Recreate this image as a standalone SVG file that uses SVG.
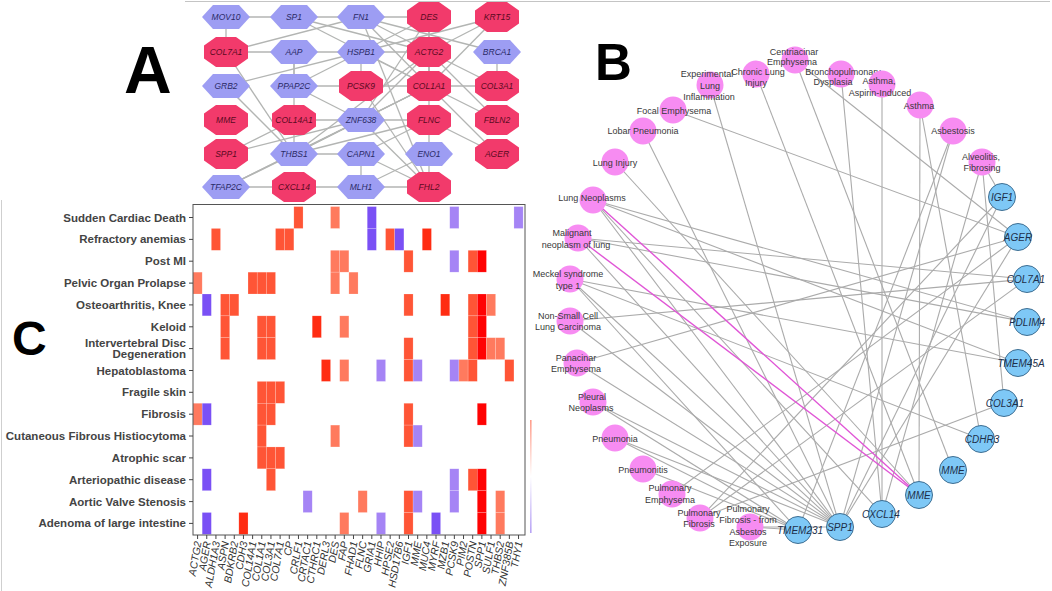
<svg xmlns="http://www.w3.org/2000/svg" width="1052" height="591" viewBox="0 0 1052 591">
<style>
text{font-family:"Liberation Sans",Arial,sans-serif}
.big{font-weight:bold;fill:#000}
.ae line{stroke:#b3b5b3;stroke-width:1.3}
.hx{fill:#9d9df3}
.oc{fill:#f23a6b}
.ah{font-size:8.5px;font-style:italic;fill:#2a2a66;text-anchor:middle}
.ao{font-size:8.5px;font-style:italic;fill:#5a0a22;text-anchor:middle}
.rl{font-size:11.5px;font-weight:bold;fill:#444;text-anchor:end}
.cl{font-size:10.5px;font-style:italic;fill:#333;text-anchor:end}
.tk line{stroke:#444;stroke-width:1}
.hm rect{stroke:#fff;stroke-opacity:0.35;stroke-width:0.5}
.cL{fill:#ff7a5e}.cR{fill:#ff5536}.cB{fill:#ff2c12}.cD{fill:#ff0303}.cU{fill:#7a50f5}.cP{fill:#a584f5}
.be line{stroke:#ababab;stroke-width:1.1}
.be line.pk{stroke:#e056d6;stroke-width:1.4}
.dn{fill:#f78cf2}
.gn{fill:#7ec8f6;stroke:#3e6e92;stroke-width:1}
.dl{font-size:9px;fill:#383838;text-anchor:middle}
.gl{font-size:10px;font-style:italic;fill:#1d2f4a;text-anchor:middle}
</style>
<defs>
<polygon id="hex" points="-24,0 -13,-12 13,-12 24,0 13,12 -13,12"/>
<polygon id="oct" points="-22,-6.5 -10,-15 10,-15 22,-6.5 22,6.5 10,15 -10,15 -22,6.5"/>
<linearGradient id="leg" x1="0" y1="0" x2="0" y2="1">
<stop offset="0" stop-color="#ff9c8a"/><stop offset="0.5" stop-color="#ffffff"/><stop offset="1" stop-color="#b7a2f5"/>
</linearGradient>
</defs>
<rect width="1052" height="591" fill="#fff"/>
<line x1="185" y1="1.5" x2="1050" y2="1.5" stroke="#c4c4c4" stroke-width="1"/>
<line x1="1.5" y1="200" x2="1.5" y2="591" stroke="#cfcfcf" stroke-width="1"/>

<!-- Panel letters -->
<text class="big" x="124" y="93" font-size="66">A</text>
<text class="big" x="595" y="80" font-size="51">B</text>
<text class="big" x="12" y="355" font-size="48">C</text>

<!-- Panel A connectors -->
<g id="a-edges" class="ae">
<line x1="226" y1="17" x2="294" y2="17"/>
<line x1="294" y1="17" x2="361" y2="17"/>
<line x1="361" y1="17" x2="429" y2="17"/>
<line x1="226" y1="17" x2="226" y2="52"/>
<line x1="226" y1="52" x2="361" y2="17"/>
<line x1="294" y1="17" x2="429" y2="52"/>
<line x1="294" y1="17" x2="429" y2="86"/>
<line x1="361" y1="17" x2="429" y2="52"/>
<line x1="361" y1="17" x2="429" y2="86"/>
<line x1="361" y1="17" x2="497" y2="52"/>
<line x1="361" y1="17" x2="429" y2="187"/>
<line x1="429" y1="17" x2="361" y2="52"/>
<line x1="429" y1="17" x2="429" y2="52"/>
<line x1="429" y1="17" x2="429" y2="86"/>
<line x1="497" y1="17" x2="361" y2="52"/>
<line x1="497" y1="17" x2="429" y2="52"/>
<line x1="497" y1="17" x2="429" y2="86"/>
<line x1="361" y1="52" x2="361" y2="86"/>
<line x1="361" y1="52" x2="429" y2="52"/>
<line x1="361" y1="52" x2="226" y2="86"/>
<line x1="361" y1="52" x2="294" y2="86"/>
<line x1="361" y1="52" x2="429" y2="86"/>
<line x1="226" y1="52" x2="361" y2="52"/>
<line x1="294" y1="52" x2="294" y2="86"/>
<line x1="294" y1="52" x2="294" y2="120"/>
<line x1="226" y1="52" x2="294" y2="154"/>
<line x1="294" y1="86" x2="361" y2="120"/>
<line x1="294" y1="86" x2="429" y2="86"/>
<line x1="429" y1="52" x2="429" y2="86"/>
<line x1="429" y1="52" x2="429" y2="120"/>
<line x1="429" y1="52" x2="497" y2="86"/>
<line x1="429" y1="86" x2="497" y2="86"/>
<line x1="497" y1="52" x2="497" y2="86"/>
<line x1="361" y1="120" x2="429" y2="52"/>
<line x1="361" y1="120" x2="429" y2="17"/>
<line x1="361" y1="120" x2="429" y2="86"/>
<line x1="361" y1="120" x2="294" y2="154"/>
<line x1="361" y1="120" x2="429" y2="187"/>
<line x1="361" y1="120" x2="429" y2="120"/>
<line x1="361" y1="120" x2="226" y2="187"/>
<line x1="361" y1="120" x2="226" y2="154"/>
<line x1="361" y1="120" x2="294" y2="120"/>
<line x1="294" y1="120" x2="294" y2="154"/>
<line x1="294" y1="154" x2="361" y2="154"/>
<line x1="294" y1="154" x2="429" y2="52"/>
<line x1="294" y1="154" x2="429" y2="86"/>
<line x1="294" y1="154" x2="429" y2="120"/>
<line x1="294" y1="154" x2="226" y2="187"/>
<line x1="226" y1="86" x2="294" y2="154"/>
<line x1="226" y1="187" x2="294" y2="187"/>
<line x1="226" y1="187" x2="429" y2="86"/>
<line x1="294" y1="187" x2="361" y2="187"/>
<line x1="361" y1="187" x2="429" y2="187"/>
<line x1="361" y1="154" x2="361" y2="187"/>
<line x1="361" y1="154" x2="429" y2="187"/>
<line x1="361" y1="154" x2="429" y2="120"/>
<line x1="429" y1="154" x2="429" y2="120"/>
<line x1="429" y1="154" x2="429" y2="187"/>
<line x1="429" y1="120" x2="497" y2="154"/>
<line x1="497" y1="120" x2="429" y2="52"/>
<line x1="497" y1="120" x2="429" y2="86"/>
<line x1="497" y1="154" x2="429" y2="86"/>
<line x1="361" y1="187" x2="429" y2="154"/>
<line x1="361" y1="86" x2="429" y2="187"/>
<line x1="226" y1="154" x2="294" y2="120"/>
</g>

<!-- Panel A nodes -->
<g id="a-MOV10"><use href="#hex" x="226" y="17" class="hx"/><text class="ah" x="226" y="20">MOV10</text></g>
<g id="a-SP1"><use href="#hex" x="294" y="17" class="hx"/><text class="ah" x="294" y="20">SP1</text></g>
<g id="a-FN1"><use href="#hex" x="361" y="17" class="hx"/><text class="ah" x="361" y="20">FN1</text></g>
<g id="a-DES"><use href="#oct" x="429" y="17" class="oc"/><text class="ao" x="429" y="20">DES</text></g>
<g id="a-KRT15"><use href="#oct" x="497" y="17" class="oc"/><text class="ao" x="497" y="20">KRT15</text></g>
<g id="a-COL7A1"><use href="#oct" x="226" y="52" class="oc"/><text class="ao" x="226" y="55">COL7A1</text></g>
<g id="a-AAP"><use href="#hex" x="294" y="52" class="hx"/><text class="ah" x="294" y="55">AAP</text></g>
<g id="a-HSPB1"><use href="#hex" x="361" y="52" class="hx"/><text class="ah" x="361" y="55">HSPB1</text></g>
<g id="a-ACTG2"><use href="#oct" x="429" y="52" class="oc"/><text class="ao" x="429" y="55">ACTG2</text></g>
<g id="a-BRCA1"><use href="#hex" x="497" y="52" class="hx"/><text class="ah" x="497" y="55">BRCA1</text></g>
<g id="a-GRB2"><use href="#hex" x="226" y="86" class="hx"/><text class="ah" x="226" y="89">GRB2</text></g>
<g id="a-PPAP2C"><use href="#hex" x="294" y="86" class="hx"/><text class="ah" x="294" y="89">PPAP2C</text></g>
<g id="a-PCSK9"><use href="#oct" x="361" y="86" class="oc"/><text class="ao" x="361" y="89">PCSK9</text></g>
<g id="a-COL1A1"><use href="#oct" x="429" y="86" class="oc"/><text class="ao" x="429" y="89">COL1A1</text></g>
<g id="a-COL3A1"><use href="#oct" x="497" y="86" class="oc"/><text class="ao" x="497" y="89">COL3A1</text></g>
<g id="a-MME"><use href="#oct" x="226" y="120" class="oc"/><text class="ao" x="226" y="123">MME</text></g>
<g id="a-COL14A1"><use href="#oct" x="294" y="120" class="oc"/><text class="ao" x="294" y="123">COL14A1</text></g>
<g id="a-ZNF638"><use href="#hex" x="361" y="120" class="hx"/><text class="ah" x="361" y="123">ZNF638</text></g>
<g id="a-FLNC"><use href="#oct" x="429" y="120" class="oc"/><text class="ao" x="429" y="123">FLNC</text></g>
<g id="a-FBLN2"><use href="#oct" x="497" y="120" class="oc"/><text class="ao" x="497" y="123">FBLN2</text></g>
<g id="a-SPP1"><use href="#oct" x="226" y="154" class="oc"/><text class="ao" x="226" y="157">SPP1</text></g>
<g id="a-THBS1"><use href="#hex" x="294" y="154" class="hx"/><text class="ah" x="294" y="157">THBS1</text></g>
<g id="a-CAPN1"><use href="#hex" x="361" y="154" class="hx"/><text class="ah" x="361" y="157">CAPN1</text></g>
<g id="a-ENO1"><use href="#hex" x="429" y="154" class="hx"/><text class="ah" x="429" y="157">ENO1</text></g>
<g id="a-AGER"><use href="#oct" x="497" y="154" class="oc"/><text class="ao" x="497" y="157">AGER</text></g>
<g id="a-TFAP2C"><use href="#hex" x="226" y="187" class="hx"/><text class="ah" x="226" y="190">TFAP2C</text></g>
<g id="a-CXCL14"><use href="#oct" x="294" y="187" class="oc"/><text class="ao" x="294" y="190">CXCL14</text></g>
<g id="a-MLH1"><use href="#hex" x="361" y="187" class="hx"/><text class="ah" x="361" y="190">MLH1</text></g>
<g id="a-FHL2"><use href="#oct" x="429" y="187" class="oc"/><text class="ao" x="429" y="190">FHL2</text></g>

<!-- Panel C heatmap -->
<g id="c-heatmap">
<g class="hm">
<rect class="cR" x="293.87" y="206.6" width="9.17" height="21.85"/>
<rect class="cL" x="330.55" y="206.6" width="9.17" height="21.85"/>
<rect class="cU" x="367.23" y="206.6" width="9.17" height="21.85"/>
<rect class="cP" x="449.76" y="206.6" width="9.17" height="21.85"/>
<rect class="cP" x="513.95" y="206.6" width="9.17" height="21.85"/>

<rect class="cR" x="211.34" y="228.45" width="9.17" height="21.85"/>
<rect class="cR" x="275.53" y="228.45" width="9.17" height="21.85"/>
<rect class="cR" x="284.70" y="228.45" width="9.17" height="21.85"/>
<rect class="cU" x="367.23" y="228.45" width="9.17" height="21.85"/>
<rect class="cR" x="385.57" y="228.45" width="9.17" height="21.85"/>
<rect class="cU" x="394.74" y="228.45" width="9.17" height="21.85"/>
<rect class="cB" x="422.25" y="228.45" width="9.17" height="21.85"/>

<rect class="cL" x="330.55" y="250.3" width="9.17" height="21.85"/>
<rect class="cL" x="339.72" y="250.3" width="9.17" height="21.85"/>
<rect class="cR" x="403.91" y="250.3" width="9.17" height="21.85"/>
<rect class="cP" x="449.76" y="250.3" width="9.17" height="21.85"/>
<rect class="cR" x="468.10" y="250.3" width="9.17" height="21.85"/>
<rect class="cD" x="477.27" y="250.3" width="9.17" height="21.85"/>

<rect class="cL" x="193.00" y="272.15" width="9.17" height="21.85"/>
<rect class="cR" x="248.02" y="272.15" width="9.17" height="21.85"/>
<rect class="cR" x="257.19" y="272.15" width="9.17" height="21.85"/>
<rect class="cR" x="266.36" y="272.15" width="9.17" height="21.85"/>
<rect class="cL" x="330.55" y="272.15" width="9.17" height="21.85"/>
<rect class="cL" x="348.89" y="272.15" width="9.17" height="21.85"/>

<rect class="cU" x="202.17" y="294.0" width="9.17" height="21.85"/>
<rect class="cR" x="220.51" y="294.0" width="9.17" height="21.85"/>
<rect class="cR" x="229.68" y="294.0" width="9.17" height="21.85"/>
<rect class="cR" x="403.91" y="294.0" width="9.17" height="21.85"/>
<rect class="cB" x="440.59" y="294.0" width="9.17" height="21.85"/>
<rect class="cR" x="468.10" y="294.0" width="9.17" height="21.85"/>
<rect class="cD" x="477.27" y="294.0" width="9.17" height="21.85"/>
<rect class="cL" x="486.44" y="294.0" width="9.17" height="21.85"/>

<rect class="cR" x="220.51" y="315.85" width="9.17" height="21.85"/>
<rect class="cR" x="257.19" y="315.85" width="9.17" height="21.85"/>
<rect class="cR" x="266.36" y="315.85" width="9.17" height="21.85"/>
<rect class="cB" x="312.21" y="315.85" width="9.17" height="21.85"/>
<rect class="cL" x="339.72" y="315.85" width="9.17" height="21.85"/>
<rect class="cR" x="468.10" y="315.85" width="9.17" height="21.85"/>
<rect class="cD" x="477.27" y="315.85" width="9.17" height="21.85"/>

<rect class="cR" x="220.51" y="337.7" width="9.17" height="21.85"/>
<rect class="cR" x="257.19" y="337.7" width="9.17" height="21.85"/>
<rect class="cR" x="266.36" y="337.7" width="9.17" height="21.85"/>
<rect class="cR" x="403.91" y="337.7" width="9.17" height="21.85"/>
<rect class="cR" x="468.10" y="337.7" width="9.17" height="21.85"/>
<rect class="cD" x="477.27" y="337.7" width="9.17" height="21.85"/>
<rect class="cL" x="486.44" y="337.7" width="9.17" height="21.85"/>
<rect class="cL" x="495.61" y="337.7" width="9.17" height="21.85"/>

<rect class="cB" x="321.38" y="359.55" width="9.17" height="21.85"/>
<rect class="cL" x="339.72" y="359.55" width="9.17" height="21.85"/>
<rect class="cP" x="376.40" y="359.55" width="9.17" height="21.85"/>
<rect class="cR" x="403.91" y="359.55" width="9.17" height="21.85"/>
<rect class="cP" x="413.08" y="359.55" width="9.17" height="21.85"/>
<rect class="cP" x="449.76" y="359.55" width="9.17" height="21.85"/>
<rect class="cL" x="458.93" y="359.55" width="9.17" height="21.85"/>
<rect class="cR" x="468.10" y="359.55" width="9.17" height="21.85"/>
<rect class="cR" x="504.78" y="359.55" width="9.17" height="21.85"/>

<rect class="cR" x="257.19" y="381.4" width="9.17" height="21.85"/>
<rect class="cR" x="266.36" y="381.4" width="9.17" height="21.85"/>
<rect class="cR" x="275.53" y="381.4" width="9.17" height="21.85"/>

<rect class="cL" x="193.00" y="403.25" width="9.17" height="21.85"/>
<rect class="cU" x="202.17" y="403.25" width="9.17" height="21.85"/>
<rect class="cR" x="257.19" y="403.25" width="9.17" height="21.85"/>
<rect class="cR" x="266.36" y="403.25" width="9.17" height="21.85"/>
<rect class="cR" x="403.91" y="403.25" width="9.17" height="21.85"/>
<rect class="cD" x="477.27" y="403.25" width="9.17" height="21.85"/>

<rect class="cR" x="257.19" y="425.1" width="9.17" height="21.85"/>
<rect class="cL" x="330.55" y="425.1" width="9.17" height="21.85"/>
<rect class="cR" x="403.91" y="425.1" width="9.17" height="21.85"/>
<rect class="cP" x="413.08" y="425.1" width="9.17" height="21.85"/>

<rect class="cR" x="257.19" y="446.95" width="9.17" height="21.85"/>
<rect class="cR" x="266.36" y="446.95" width="9.17" height="21.85"/>
<rect class="cR" x="275.53" y="446.95" width="9.17" height="21.85"/>

<rect class="cU" x="202.17" y="468.8" width="9.17" height="21.85"/>
<rect class="cR" x="266.36" y="468.8" width="9.17" height="21.85"/>
<rect class="cP" x="449.76" y="468.8" width="9.17" height="21.85"/>
<rect class="cR" x="468.10" y="468.8" width="9.17" height="21.85"/>
<rect class="cD" x="477.27" y="468.8" width="9.17" height="21.85"/>

<rect class="cP" x="303.04" y="490.65" width="9.17" height="21.85"/>
<rect class="cL" x="358.06" y="490.65" width="9.17" height="21.85"/>
<rect class="cR" x="403.91" y="490.65" width="9.17" height="21.85"/>
<rect class="cP" x="413.08" y="490.65" width="9.17" height="21.85"/>
<rect class="cP" x="449.76" y="490.65" width="9.17" height="21.85"/>
<rect class="cD" x="477.27" y="490.65" width="9.17" height="21.85"/>
<rect class="cL" x="495.61" y="490.65" width="9.17" height="21.85"/>

<rect class="cU" x="202.17" y="512.5" width="9.17" height="21.85"/>
<rect class="cB" x="238.85" y="512.5" width="9.17" height="21.85"/>
<rect class="cL" x="339.72" y="512.5" width="9.17" height="21.85"/>
<rect class="cP" x="376.40" y="512.5" width="9.17" height="21.85"/>
<rect class="cR" x="403.91" y="512.5" width="9.17" height="21.85"/>
<rect class="cU" x="431.42" y="512.5" width="9.17" height="21.85"/>
<rect class="cD" x="477.27" y="512.5" width="9.17" height="21.85"/>
<rect class="cL" x="495.61" y="512.5" width="9.17" height="21.85"/>
</g>
<rect x="193" y="204.5" width="332" height="330.5" fill="none" stroke="#555" stroke-width="1"/>
<rect x="530" y="420" width="1.6" height="113" fill="url(#leg)"/>
<g class="tk">
<line x1="189" y1="217.5" x2="193" y2="217.5"/><line x1="189" y1="239.4" x2="193" y2="239.4"/>
<line x1="189" y1="261.2" x2="193" y2="261.2"/><line x1="189" y1="283.1" x2="193" y2="283.1"/>
<line x1="189" y1="304.9" x2="193" y2="304.9"/><line x1="189" y1="326.8" x2="193" y2="326.8"/>
<line x1="189" y1="348.6" x2="193" y2="348.6"/><line x1="189" y1="370.5" x2="193" y2="370.5"/>
<line x1="189" y1="392.3" x2="193" y2="392.3"/><line x1="189" y1="414.2" x2="193" y2="414.2"/>
<line x1="189" y1="436" x2="193" y2="436"/><line x1="189" y1="457.9" x2="193" y2="457.9"/>
<line x1="189" y1="479.7" x2="193" y2="479.7"/><line x1="189" y1="501.6" x2="193" y2="501.6"/>
<line x1="189" y1="523.4" x2="193" y2="523.4"/>
</g>
<g class="tk" transform="translate(197.59,535)">
<line x1="0" y1="0" x2="0" y2="4"/><line x1="9.17" y1="0" x2="9.17" y2="4"/><line x1="18.34" y1="0" x2="18.34" y2="4"/><line x1="27.51" y1="0" x2="27.51" y2="4"/>
<line x1="36.68" y1="0" x2="36.68" y2="4"/><line x1="45.85" y1="0" x2="45.85" y2="4"/><line x1="55.02" y1="0" x2="55.02" y2="4"/><line x1="64.19" y1="0" x2="64.19" y2="4"/>
<line x1="73.36" y1="0" x2="73.36" y2="4"/><line x1="82.53" y1="0" x2="82.53" y2="4"/><line x1="91.7" y1="0" x2="91.7" y2="4"/><line x1="100.87" y1="0" x2="100.87" y2="4"/>
<line x1="110.04" y1="0" x2="110.04" y2="4"/><line x1="119.21" y1="0" x2="119.21" y2="4"/><line x1="128.38" y1="0" x2="128.38" y2="4"/><line x1="137.55" y1="0" x2="137.55" y2="4"/>
<line x1="146.72" y1="0" x2="146.72" y2="4"/><line x1="155.89" y1="0" x2="155.89" y2="4"/><line x1="165.06" y1="0" x2="165.06" y2="4"/><line x1="174.23" y1="0" x2="174.23" y2="4"/>
<line x1="183.4" y1="0" x2="183.4" y2="4"/><line x1="192.57" y1="0" x2="192.57" y2="4"/><line x1="201.74" y1="0" x2="201.74" y2="4"/><line x1="210.91" y1="0" x2="210.91" y2="4"/>
<line x1="220.08" y1="0" x2="220.08" y2="4"/><line x1="229.25" y1="0" x2="229.25" y2="4"/><line x1="238.42" y1="0" x2="238.42" y2="4"/><line x1="247.59" y1="0" x2="247.59" y2="4"/>
<line x1="256.76" y1="0" x2="256.76" y2="4"/><line x1="265.93" y1="0" x2="265.93" y2="4"/><line x1="275.1" y1="0" x2="275.1" y2="4"/><line x1="284.27" y1="0" x2="284.27" y2="4"/>
<line x1="293.44" y1="0" x2="293.44" y2="4"/><line x1="302.61" y1="0" x2="302.61" y2="4"/><line x1="311.78" y1="0" x2="311.78" y2="4"/><line x1="320.95" y1="0" x2="320.95" y2="4"/>
</g>
<text class="rl" x="186" y="221.5">Sudden Cardiac Death</text>
<text class="rl" x="186" y="243.4">Refractory anemias</text>
<text class="rl" x="186" y="265.2">Post MI</text>
<text class="rl" x="186" y="287.1">Pelvic Organ Prolapse</text>
<text class="rl" x="186" y="308.9">Osteoarthritis, Knee</text>
<text class="rl" x="186" y="330.8">Keloid</text>
<text class="rl" x="186" y="346.7">Intervertebral Disc</text>
<text class="rl" x="186" y="358.2">Degeneration</text>
<text class="rl" x="186" y="374.5">Hepatoblastoma</text>
<text class="rl" x="186" y="396.3">Fragile skin</text>
<text class="rl" x="186" y="418.2">Fibrosis</text>
<text class="rl" x="186" y="440">Cutaneous Fibrous Histiocytoma</text>
<text class="rl" x="186" y="461.9">Atrophic scar</text>
<text class="rl" x="186" y="483.7">Arteriopathic disease</text>
<text class="rl" x="186" y="505.6">Aortic Valve Stenosis</text>
<text class="rl" x="186" y="527.4">Adenoma of large intestine</text>
<g>
<text class="cl" transform="translate(201.6,542) rotate(-80)">ACTG2</text>
<text class="cl" transform="translate(210.8,542) rotate(-80)">AGER</text>
<text class="cl" transform="translate(219.9,542) rotate(-80)">ALDH1A3</text>
<text class="cl" transform="translate(229.1,542) rotate(-80)">ASPN</text>
<text class="cl" transform="translate(238.3,542) rotate(-80)">BDKRB2</text>
<text class="cl" transform="translate(247.4,542) rotate(-80)">CDH3</text>
<text class="cl" transform="translate(256.6,542) rotate(-80)">COL14A1</text>
<text class="cl" transform="translate(265.8,542) rotate(-80)">COL1A1</text>
<text class="cl" transform="translate(275.0,542) rotate(-80)">COL3A1</text>
<text class="cl" transform="translate(284.1,542) rotate(-80)">COL7A1</text>
<text class="cl" transform="translate(293.3,542) rotate(-80)">CP</text>
<text class="cl" transform="translate(302.5,542) rotate(-80)">CRLF1</text>
<text class="cl" transform="translate(311.6,542) rotate(-80)">CRTAC1</text>
<text class="cl" transform="translate(320.8,542) rotate(-80)">CTHRC1</text>
<text class="cl" transform="translate(330.0,542) rotate(-80)">DERL3</text>
<text class="cl" transform="translate(339.1,542) rotate(-80)">DES</text>
<text class="cl" transform="translate(348.3,542) rotate(-80)">FAP</text>
<text class="cl" transform="translate(357.5,542) rotate(-80)">FHAD1</text>
<text class="cl" transform="translate(366.7,542) rotate(-80)">FLNC</text>
<text class="cl" transform="translate(375.8,542) rotate(-80)">GRIA1</text>
<text class="cl" transform="translate(385.0,542) rotate(-80)">HHIP</text>
<text class="cl" transform="translate(394.2,542) rotate(-80)">HPSE2</text>
<text class="cl" transform="translate(403.3,542) rotate(-80)">HSD17B6</text>
<text class="cl" transform="translate(412.5,542) rotate(-80)">IGF1</text>
<text class="cl" transform="translate(421.7,542) rotate(-80)">MME</text>
<text class="cl" transform="translate(430.8,542) rotate(-80)">MUC4</text>
<text class="cl" transform="translate(440.0,542) rotate(-80)">MYRF</text>
<text class="cl" transform="translate(449.2,542) rotate(-80)">MZB1</text>
<text class="cl" transform="translate(458.4,542) rotate(-80)">PCSK9</text>
<text class="cl" transform="translate(467.5,542) rotate(-80)">PIM2</text>
<text class="cl" transform="translate(476.7,542) rotate(-80)">POSTN</text>
<text class="cl" transform="translate(485.9,542) rotate(-80)">SPP1</text>
<text class="cl" transform="translate(495.0,542) rotate(-80)">SULF1</text>
<text class="cl" transform="translate(504.2,542) rotate(-80)">THBS2</text>
<text class="cl" transform="translate(513.4,542) rotate(-80)">ZNF385B</text>
<text class="cl" transform="translate(522.5,542) rotate(-80)">THY1</text>
</g>
</g>

<!-- Panel B connectors -->
<g id="b-edges" class="be">
<line x1="710" y1="85" x2="840" y2="527"/>
<line x1="756" y1="74" x2="919" y2="495"/>
<line x1="795" y1="60" x2="1018" y2="237"/>
<line x1="795" y1="60" x2="953" y2="470"/>
<line x1="841" y1="74" x2="882" y2="514"/>
<line x1="882" y1="84" x2="882" y2="514"/>
<line x1="920" y1="105" x2="919" y2="495"/>
<line x1="920" y1="105" x2="981" y2="439"/>
<line x1="953" y1="131" x2="840" y2="527"/>
<line x1="953" y1="131" x2="798" y2="530"/>
<line x1="982" y1="162" x2="1002" y2="197"/>
<line x1="982" y1="162" x2="1004" y2="403"/>
<line x1="982" y1="162" x2="882" y2="514"/>
<line x1="673" y1="110" x2="1018" y2="237"/>
<line x1="643" y1="131" x2="840" y2="527"/>
<line x1="615" y1="162" x2="919" y2="495"/>
<line x1="593" y1="200" x2="1027" y2="322"/>
<line x1="593" y1="200" x2="1018" y2="363"/>
<line x1="593" y1="200" x2="840" y2="527"/>
<line x1="593" y1="200" x2="882" y2="514"/>
<line x1="578" y1="238" x2="1027" y2="279"/>
<line x1="578" y1="238" x2="1027" y2="322"/>
<line x1="578" y1="238" x2="840" y2="527"/>
<line x1="570" y1="279" x2="840" y2="527"/>
<line x1="570" y1="279" x2="798" y2="530"/>
<line x1="570" y1="279" x2="981" y2="439"/>
<line x1="570" y1="279" x2="1018" y2="363"/>
<line x1="570" y1="321" x2="1027" y2="279"/>
<line x1="570" y1="321" x2="840" y2="527"/>
<line x1="577" y1="363" x2="1018" y2="237"/>
<line x1="577" y1="363" x2="840" y2="527"/>
<line x1="593" y1="402" x2="840" y2="527"/>
<line x1="593" y1="402" x2="798" y2="530"/>
<line x1="615" y1="438" x2="798" y2="530"/>
<line x1="615" y1="438" x2="840" y2="527"/>
<line x1="643" y1="469" x2="798" y2="530"/>
<line x1="672" y1="494" x2="1018" y2="237"/>
<line x1="700" y1="518" x2="1027" y2="279"/>
<line x1="700" y1="518" x2="1004" y2="403"/>
<line x1="700" y1="518" x2="1002" y2="197"/>
<line x1="750" y1="527" x2="840" y2="527"/>
<line x1="750" y1="527" x2="798" y2="530"/>
<line x1="840" y1="527" x2="1002" y2="197"/>
<line x1="840" y1="527" x2="1018" y2="237"/>
<line class="pk" x1="593" y1="200" x2="919" y2="495"/>
<line class="pk" x1="578" y1="238" x2="919" y2="495"/>
</g>

<!-- Panel B disease nodes -->
<g id="b-ELI"><circle class="dn" cx="710" cy="85" r="13.5"/><text class="dl" x="707" y="77" font-size="8.5">Experimental<tspan x="710" y="89" font-size="9">Lung</tspan><tspan x="709" y="100" font-size="9">Inflammation</tspan></text></g>
<g id="b-CLI"><circle class="dn" cx="756" cy="74" r="13.5"/><text class="dl" x="758" y="75">Chronic Lung<tspan x="756" y="86">Injury</tspan></text></g>
<g id="b-CE"><circle class="dn" cx="795" cy="60" r="13.5"/><text class="dl" x="794" y="55">Centriacinar<tspan x="792" y="64.5">Emphysema</tspan></text></g>
<g id="b-BD"><circle class="dn" cx="841" cy="74" r="13.5"/><text class="dl" x="843" y="74.5">Bronchopulmonary<tspan x="833" y="85">Dysplasia</tspan></text></g>
<g id="b-AAI"><circle class="dn" cx="882" cy="84" r="13.5"/><text class="dl" x="879" y="84">Asthma,<tspan x="880" y="96">Aspirin-Induced</tspan></text></g>
<g id="b-AST"><circle class="dn" cx="920" cy="105" r="13.5"/><text class="dl" x="919" y="109">Asthma</text></g>
<g id="b-ASB"><circle class="dn" cx="953" cy="131" r="13.5"/><text class="dl" x="953" y="134">Asbestosis</text></g>
<g id="b-AF"><circle class="dn" cx="982" cy="162" r="13.5"/><text class="dl" x="981" y="160">Alveolitis,<tspan x="982" y="171">Fibrosing</tspan></text></g>
<g id="b-FE"><circle class="dn" cx="673" cy="110" r="13.5"/><text class="dl" x="674" y="114">Focal Emphysema</text></g>
<g id="b-LP"><circle class="dn" cx="643" cy="131" r="13.5"/><text class="dl" x="643" y="134">Lobar Pneumonia</text></g>
<g id="b-LI"><circle class="dn" cx="615" cy="162" r="13.5"/><text class="dl" x="615" y="166">Lung Injury</text></g>
<g id="b-LN"><circle class="dn" cx="593" cy="200" r="13.5"/><text class="dl" x="592" y="201">Lung Neoplasms</text></g>
<g id="b-MNL"><circle class="dn" cx="578" cy="238" r="13.5"/><text class="dl" x="572" y="236">Malignant<tspan x="576" y="248">neoplasm of lung</tspan></text></g>
<g id="b-MS"><circle class="dn" cx="570" cy="279" r="13.5"/><text class="dl" x="568" y="277">Meckel syndrome<tspan x="568" y="289">type 1</tspan></text></g>
<g id="b-NSC"><circle class="dn" cx="570" cy="321" r="13.5"/><text class="dl" x="568" y="319">Non-Small Cell<tspan x="568" y="330">Lung Carcinoma</tspan></text></g>
<g id="b-PE"><circle class="dn" cx="577" cy="363" r="13.5"/><text class="dl" x="576" y="361">Panacinar<tspan x="576" y="372">Emphysema</tspan></text></g>
<g id="b-PN"><circle class="dn" cx="593" cy="402" r="13.5"/><text class="dl" x="592" y="400">Pleural<tspan x="591" y="411">Neoplasms</tspan></text></g>
<g id="b-PNA"><circle class="dn" cx="615" cy="438" r="13.5"/><text class="dl" x="615" y="442">Pneumonia</text></g>
<g id="b-PNT"><circle class="dn" cx="643" cy="469" r="13.5"/><text class="dl" x="643" y="473">Pneumonitis</text></g>
<g id="b-PUE"><circle class="dn" cx="672" cy="494" r="13.5"/><text class="dl" x="670" y="491">Pulmonary<tspan x="670" y="503">Emphysema</tspan></text></g>
<g id="b-PF"><circle class="dn" cx="700" cy="518" r="13.5"/><text class="dl" x="699" y="516">Pulmonary<tspan x="699" y="527">Fibrosis</tspan></text></g>
<g id="b-PFA"><circle class="dn" cx="750" cy="527" r="13.5"/><text class="dl" x="748" y="512">Pulmonary<tspan x="748" y="523">Fibrosis - from</tspan><tspan x="748" y="535">Asbestos</tspan><tspan x="748" y="546">Exposure</tspan></text></g>

<!-- Panel B gene nodes -->
<g id="b-IGF1"><circle class="gn" cx="1002" cy="197" r="13.5"/><text class="gl" x="1002" y="200.5">IGF1</text></g>
<g id="b-AGER"><circle class="gn" cx="1018" cy="237" r="13.5"/><text class="gl" x="1018" y="240.5">AGER</text></g>
<g id="b-COL7A1"><circle class="gn" cx="1027" cy="279" r="13.5"/><text class="gl" x="1026" y="282.5">COL7A1</text></g>
<g id="b-PDLIM4"><circle class="gn" cx="1027" cy="322" r="13.5"/><text class="gl" x="1027" y="325.5">PDLIM4</text></g>
<g id="b-TMEM45A"><circle class="gn" cx="1018" cy="363" r="13.5"/><text class="gl" x="1021" y="366.5">TMEM45A</text></g>
<g id="b-COL3A1"><circle class="gn" cx="1004" cy="403" r="13.5"/><text class="gl" x="1005" y="406.5">COL3A1</text></g>
<g id="b-CDHR3"><circle class="gn" cx="981" cy="439" r="13.5"/><text class="gl" x="982" y="442.5">CDHR3</text></g>
<g id="b-MME1"><circle class="gn" cx="953" cy="470" r="13.5"/><text class="gl" x="953" y="473.5">MME</text></g>
<g id="b-MME2"><circle class="gn" cx="919" cy="495" r="13.5"/><text class="gl" x="919" y="498.5">MME</text></g>
<g id="b-CXCL14"><circle class="gn" cx="882" cy="514" r="13.5"/><text class="gl" x="881" y="517.5">CXCL14</text></g>
<g id="b-SPP1"><circle class="gn" cx="840" cy="527" r="13.5"/><text class="gl" x="840" y="530.5">SPP1</text></g>
<g id="b-TMEM231"><circle class="gn" cx="798" cy="530" r="13.5"/><text class="gl" x="800" y="533.5">TMEM231</text></g>
</svg>
